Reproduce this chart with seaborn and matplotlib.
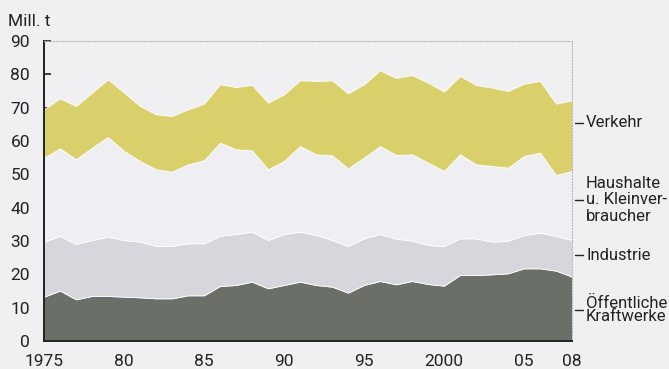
import matplotlib
matplotlib.use('Agg')
import matplotlib.pyplot as plt
import seaborn as sns

# data (Mill. t), 1975-2008
years = list(range(1975, 2009))
kraftwerke = [13.3, 15.1, 12.5, 13.5, 13.5, 13.3, 13.1, 12.8, 12.8, 13.7, 13.7, 16.5,
              16.8, 17.8, 15.8, 16.8, 17.8, 16.8, 16.3, 14.5, 16.8, 18.0, 17.0, 18.0,
              17.1, 16.6, 19.8, 19.8, 20.0, 20.3, 21.8, 21.8, 21.1, 19.3]
industrie = [16.5, 16.4, 16.6, 16.8, 17.8, 17.0, 16.7, 15.7, 15.7, 15.6, 15.6, 15.1,
             15.3, 15.0, 14.5, 15.3, 15.0, 15.0, 14.0, 14.0, 14.0, 14.1, 13.7, 12.1,
             11.7, 11.9, 11.0, 11.0, 9.8, 9.8, 10.0, 10.7, 10.4, 11.0]
haushalte = [25.2, 26.3, 25.4, 27.7, 29.9, 26.7, 24.2, 23.0, 22.3, 23.7, 24.9, 27.9,
             25.4, 24.4, 21.2, 21.9, 25.7, 24.2, 25.4, 23.3, 24.2, 26.4, 25.1, 25.9,
             24.7, 22.5, 25.2, 22.2, 22.7, 21.9, 23.7, 24.0, 18.3, 20.7]
verkehr = [14.5, 15.0, 16.0, 16.5, 17.3, 17.5, 16.5, 16.5, 16.7, 16.5, 17.0, 17.5,
           18.7, 19.6, 20.0, 20.0, 19.7, 22.0, 22.5, 22.5, 22.0, 22.7, 23.1, 23.8,
           24.0, 23.8, 23.5, 23.8, 23.5, 23.0, 21.7, 21.5, 21.4, 21.2]
x_labels = {1975: '1975', 1980: '80', 1985: '85', 1990: '90', 1995: '95',
            2000: '2000', 2005: '05', 2008: '08'}
y_ticks = list(range(0, 91, 10))

colors = ['#6a7068', '#d6d6dc', '#eeeef3', '#d9cf6b']
bg = '#f0f0f2'
ink = '#222222'

sns.set_theme(style='ticks')
plt.rcParams['font.family'] = ['Roboto', 'DejaVu Sans']
plt.rcParams['font.size'] = 12

fig = plt.figure(figsize=(6.69, 3.69), dpi=100, facecolor=bg)
ax = fig.add_axes([44/669, 1-341/369, 528/669, 300/369])
ax.set_facecolor(bg)

ax.stackplot(years, kraftwerke, industrie, haushalte, verkehr,
             colors=colors, edgecolor='white', linewidth=0.6)

ax.set_xlim(1975, 2008)
ax.set_ylim(0, 90)
ax.set_xticks(years)
ax.set_xticklabels([x_labels.get(y, '') for y in years])
ax.set_yticks(y_ticks)
ax.tick_params(axis='both', direction='in', length=5, width=1.2, color=ink,
               labelsize=12.5, labelcolor=ink)
ax.tick_params(axis='x', pad=9)
ax.tick_params(axis='y', pad=10)

for s in ['left', 'bottom']:
    ax.spines[s].set_color(ink)
    ax.spines[s].set_linewidth(1.4)
for s in ['top', 'right']:
    ax.spines[s].set_color('#b8b8b8')
    ax.spines[s].set_linestyle(':')
    ax.spines[s].set_linewidth(0.8)

fig.text(8/669, 1-29/369, 'Mill. t', fontsize=12.5, color=ink, ha='left', va='bottom')

# right hand labels with little dashes
tx = 586/669
fig.text(tx, 1-123/369, 'Verkehr', fontsize=12, color=ink, va='center')
fig.text(tx, 1-200/369, 'Haushalte\nu. Kleinver-\nbraucher', fontsize=12,
         color=ink, va='center', linespacing=1.12)
fig.text(tx, 1-255/369, 'Industrie', fontsize=12, color=ink, va='center')
fig.text(tx, 1-310/369, 'Öffentliche\nKraftwerke', fontsize=12, color=ink,
         va='center', linespacing=0.85)
for yy in [123, 200, 255, 310]:
    fig.add_artist(plt.Line2D([575/669, 583/669], [1-yy/369, 1-yy/369],
                              color=ink, linewidth=1))

plt.savefig('out.png', dpi=100, facecolor=bg)
